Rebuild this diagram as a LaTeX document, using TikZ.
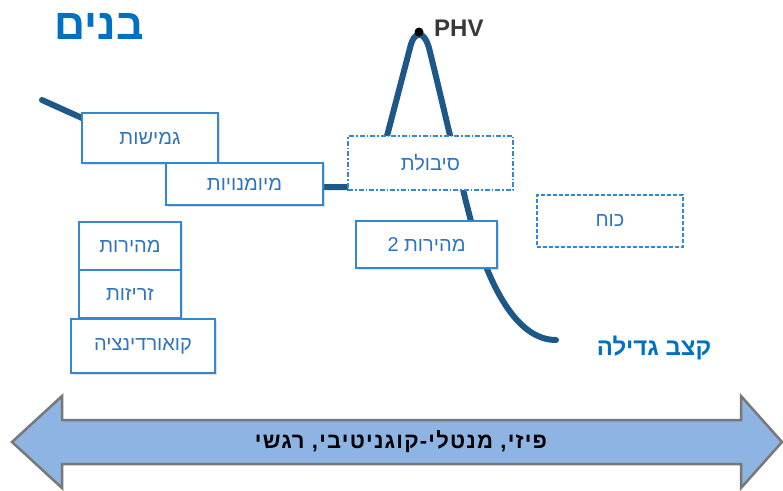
\documentclass[tikz,border=0pt]{standalone}
\usepackage{fontspec}
\setmainfont{Liberation Sans}
\newfontfamily\heb[Script=Hebrew]{Liberation Sans}
\newfontfamily\hebwide[Script=Hebrew,LetterSpace=5.5]{Liberation Sans}
\TeXXeTstate=1
\usetikzlibrary{shadows}
\definecolor{boxblue}{RGB}{52,135,210}
\definecolor{txtblue}{RGB}{46,117,190}
\definecolor{titleblue}{RGB}{0,112,192}
\definecolor{curveblue}{RGB}{30,88,135}
\definecolor{arrowfill}{RGB}{142,180,227}
\definecolor{arrowedge}{RGB}{120,120,120}
\tikzset{
  hbox/.style={draw=boxblue, line width=1.2pt, fill=white, text=txtblue,
    font=\heb\fontsize{20}{22}\selectfont, inner sep=0pt, anchor=center},
  solidbox/.style={hbox, drop shadow={shadow xshift=1.5pt, shadow yshift=-1.5pt, opacity=0.25}},
  dashdotbox/.style={hbox, dash pattern=on 5pt off 2pt on 1.5pt off 2pt},
  dashbox/.style={hbox, dash pattern=on 4pt off 2pt},
  growth/.style={draw=curveblue, line width=6pt, line cap=round, line join=round},
}
\newcommand{\lowered}[1]{\raisebox{-2pt}{#1}}
\begin{document}
\begin{tikzpicture}[x=1pt,y=-1pt]
\useasboundingbox (0,0) rectangle (783,490);
% curve
\coordinate (c0) at (42,100);
\coordinate (c1) at (82,118);
\coordinate (c2) at (200,165);
\coordinate (c3) at (323,187);
\coordinate (c4) at (350,187);
\coordinate (c5) at (387,136);
\coordinate (c6) at (410,48);
\coordinate (peak) at (419,32);
\coordinate (c7) at (429,48);
\coordinate (c8) at (472,225);
\coordinate (cend) at (556,340);
\draw[growth] (c0) -- (c1) -- (c2) -- (c3) -- (c4)
  .. controls (370,187) and (380,160) .. (c5) -- (c6)
  .. controls (414,30) and (424,30) .. (c7)
  .. controls (442,100) and (460,180) .. (c8)
  .. controls (492,295) and (520,340) .. (cend);
\fill (peak) circle (4.5pt);
\node[anchor=west, text=black!78, font=\bfseries\fontsize{24}{26}\selectfont, inner sep=0pt] (phv) at (434,28) {PHV};
% title
\node[text=titleblue, font=\heb\bfseries\fontsize{43}{45}\selectfont] (title) at (99,26) {\beginR בנים\endR};
\node[text=titleblue, font=\heb\bfseries\fontsize{24}{26}\selectfont] (rate) at (654,348) {\beginR קצב גדילה\endR};
% boxes
\node[solidbox, minimum width=136pt, minimum height=50pt] (gmishut) at (150,138) {\lowered{\beginR גמישות\endR}};
\node[solidbox, minimum width=157pt, minimum height=42pt] (meyum) at (244.5,184) {\lowered{\beginR מיומנויות\endR}};
\node[dashdotbox, minimum width=165pt, minimum height=54pt] (sivolet) at (430.5,163) {\lowered{\beginR סיבולת\endR}};
\node[dashbox, minimum width=146pt, minimum height=52pt] (koach) at (610,221) {\beginR כוח\endR};
\node[solidbox, minimum width=141pt, minimum height=47pt] (mehirut2) at (426.5,244.5) {\lowered{\beginR מהירות 2\endR}};
\node[solidbox, minimum width=102pt, minimum height=48pt] (mehirut) at (130,246) {\beginR מהירות\endR};
\node[solidbox, minimum width=102pt, minimum height=48pt] (zrizut) at (130,294) {\beginR זריזות\endR};
\node[solidbox, minimum width=144pt, minimum height=54pt] (koord) at (143,346) {\beginR קואורדינציה\endR};
% double arrow
\draw[fill=arrowfill, draw=arrowedge, line width=2.5pt, line join=miter]
  (12,442) -- (62,396) -- (62,420) -- (741,420) -- (741,396) -- (782,442)
  -- (741,488) -- (741,464) -- (62,464) -- (62,488) -- cycle;
\node[font=\hebwide\bfseries\fontsize{22}{24}\selectfont] (axis) at (401,442) {\beginR פיזי, מנטלי-קוגניטיבי, רגשי\endR};
\end{tikzpicture}
\end{document}
